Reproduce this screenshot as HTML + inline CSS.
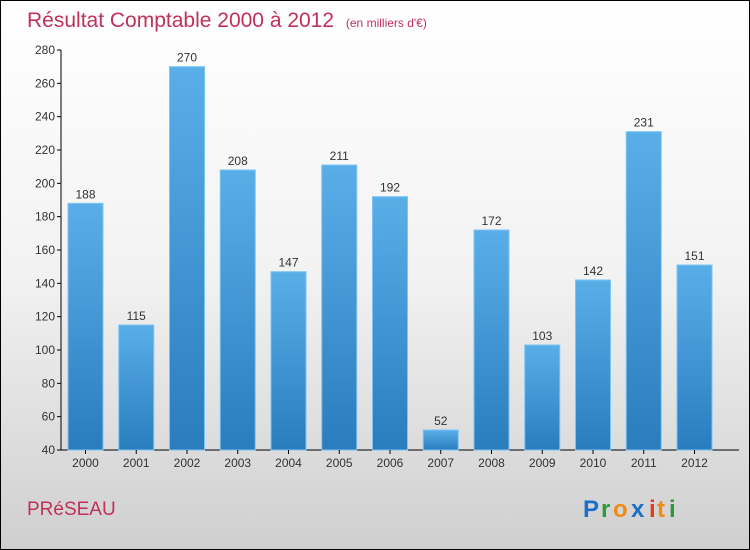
<!DOCTYPE html>
<html><head><meta charset="utf-8">
<style>
body{margin:0}
#c{width:748px;height:548px;border:1px solid #000;background:linear-gradient(#ffffff 0%,#f2f2f2 50%,#cfcfcf 100%);position:relative;font-family:"Liberation Sans",sans-serif;overflow:hidden}
</style></head><body>
<div id="c">
<svg id="s" width="748" height="548">
<defs><linearGradient id="g" x1="0" y1="0" x2="0" y2="1"><stop offset="0" stop-color="#5aaee8"/><stop offset="1" stop-color="#2a7dbd"/></linearGradient></defs>
<text x="26" y="26" font-size="21" fill="#c0305a">Résultat Comptable 2000 à 2012 <tspan font-size="12" dx="6">(en milliers d'€)</tspan></text>
<text x="26" y="514" font-size="19" fill="#c0305a">PRéSEAU</text>
<g font-size="24" font-weight="bold"><text x="582" y="516" fill="#1a6fc9">P</text><text x="600" y="516" fill="#2a9a3a">r</text><text x="612" y="516" fill="#f08a10">o</text><text x="630" y="516" fill="#1a6fc9">x</text><text x="648" y="516" fill="#e03a20">i</text><text x="656" y="516" fill="#f08a10">t</text><text x="668" y="516" fill="#2a9a3a">i</text></g>
<g id="plot"></g>
</svg></div>
<script>
const categories=["2000","2001","2002","2003","2004","2005","2006","2007","2008","2009","2010","2011","2012"];
const values=[188,115,270,208,147,211,192,52,172,103,142,231,151];
const yTicks=[40,60,80,100,120,140,160,180,200,220,240,260,280];
const ns="http://www.w3.org/2000/svg";
const p=document.getElementById('plot');
const y=v=>449-(v-40)*400/240;
const x=i=>84.5+i*50.75;
function mk(t,a){const e=document.createElementNS(ns,t);for(const k in a)e.setAttribute(k,a[k]);p.appendChild(e);return e;}
let ax=mk('line',{x1:60,y1:y(280),x2:60,y2:y(40),stroke:'#000'});


let bx=mk('line',{x1:60,y1:y(40),x2:738,y2:y(40),stroke:'#000'});


yTicks.forEach(v=>{
 let l=mk('line',{x1:56,x2:60,y1:y(v),y2:y(v),stroke:'#000'});
 
 
 let t=mk('text',{x:54,y:y(v)+4,'text-anchor':'end','font-size':12,fill:'#333'});t.textContent=v;
 
 
});
categories.forEach((c,i)=>{
 let r=mk('rect',{x:x(i)-17.5,y:y(values[i]),width:35,height:y(40)-y(values[i]),fill:'url(#g)',stroke:'#7cc4f4','stroke-width':1});
 
 
 let t=mk('text',{x:x(i),y:y(values[i])-5,'text-anchor':'middle','font-size':12,fill:'#333'});t.textContent=values[i];
 
 
 let k=mk('line',{x1:x(i),x2:x(i),y1:y(40),y2:y(40)+4,stroke:'#000'});
 
 
 let l=mk('text',{x:x(i),y:y(40)+17,'text-anchor':'middle','font-size':12,fill:'#333'});l.textContent=c;
 
 
});
</script>
</body></html>
